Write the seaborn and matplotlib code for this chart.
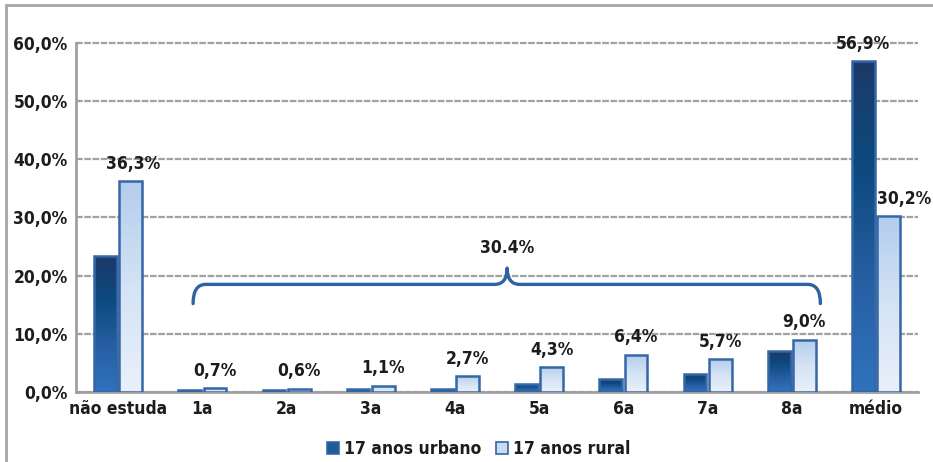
import numpy as np
import pandas as pd
import matplotlib
matplotlib.use("Agg")
import matplotlib.pyplot as plt
from matplotlib import font_manager as fm
from matplotlib.patches import Patch, PathPatch, Rectangle
from matplotlib.path import Path
from matplotlib.colors import LinearSegmentedColormap
import seaborn as sns

# ---- data -------------------------------------------------------------
categories = ["não estuda", "1a", "2a", "3a", "4a", "5a", "6a", "7a", "8a", "médio"]
urbano = [23.4, 0.4, 0.4, 0.6, 0.6, 1.4, 2.2, 3.1, 7.1, 56.9]
rural = [36.3, 0.7, 0.6, 1.1, 2.7, 4.3, 6.4, 5.7, 9.0, 30.2]
series_names = ["17 anos urbano", "17 anos rural"]
yticks = [0, 10, 20, 30, 40, 50, 60]
brace_label = "30.4%"

df = pd.DataFrame({
    "serie": [series_names[0]] * len(categories) + [series_names[1]] * len(categories),
    "categoria": categories * 2,
    "valor": urbano + rural,
})

# ---- style ------------------------------------------------------------
sns.set_theme(style="white")


def condensed_bold_font():
    """Return (family, stretch) of an installed narrow bold face, if any."""
    prefs = ["Liberation Sans Narrow", "DejaVu Sans", "Noto Sans", "Open Sans",
             "Roboto", "Lato", "Inter"]
    found = []
    for f in fm.fontManager.ttflist:
        fn = f.fname.lower()
        if ("condensed" in fn or "narrow" in fn) and "semi" not in fn \
                and "extra" not in fn and "italic" not in fn and "oblique" not in fn:
            w = f.weight if isinstance(f.weight, int) else (700 if f.weight == "bold" else 400)
            if w >= 600:
                found.append(f)
    for p in prefs:
        for f in found:
            if f.name.startswith(p):
                return f.name, f.stretch
    if found:
        return found[0].name, found[0].stretch
    return None, None


fam, stretch = condensed_bold_font()
if fam:
    plt.rcParams["font.family"] = [fam, "DejaVu Sans"]
    plt.rcParams["font.stretch"] = stretch
    FS = 12.5
else:
    plt.rcParams["font.family"] = ["Roboto", "DejaVu Sans"]
    FS = 11.5
plt.rcParams["font.weight"] = "bold"

TXT = "#1c1c1c"
GRID = "#a0a0a0"
EDGE = "#3566a6"

fig = plt.figure(figsize=(9.33, 4.62), dpi=100)
ax = fig.add_axes([0.0815, 0.1515, 0.9025, 0.7555])

sns.barplot(data=df, x="categoria", y="valor", hue="serie", order=categories,
            hue_order=series_names, width=0.6, gap=0.1, ax=ax,
            palette=["#1f5a9c", "#c9dcf2"], edgecolor=EDGE, linewidth=1.8,
            legend=False, zorder=3)

# gradient fills clipped to each bar
cmap_u = LinearSegmentedColormap.from_list("urb", ["#2f73bd", "#275fa3", "#0c4a80", "#1c3a68"])
cmap_r = LinearSegmentedColormap.from_list("rur", ["#e9f0fa", "#d4e3f5", "#b3cdec"])
grad = np.linspace(0, 1, 256).reshape(-1, 1)
n = len(categories)
bars = list(ax.patches)
for i, p in enumerate(bars):
    x, w = p.get_x(), p.get_width()
    h = p.get_height()
    cmap = cmap_u if i < n else cmap_r
    im = ax.imshow(grad, cmap=cmap, origin="lower", aspect="auto",
                   extent=(x, x + w, 0, h), zorder=3, interpolation="bilinear")
    im.set_clip_path(p)
    p.set_facecolor("none")
    p.set_zorder(4)

ax.set_xlim(-0.5, n - 0.5)
ax.set_ylim(0, 60)


# value labels
def label(bar, value, dx=0):
    ax.annotate(f"{value:.1f}%".replace(".", ","),
                (bar.get_x() + bar.get_width() / 2, bar.get_height()),
                xytext=(dx, 6), textcoords="offset points", ha="center", va="bottom",
                fontsize=FS, fontweight="bold", color=TXT, zorder=6)


for i in range(n):
    label(bars[n + i], rural[i], dx=11 if i == n - 1 else (2 if i == 0 else 0))
label(bars[n - 1], urbano[n - 1])

# axes styling
ax.set_yticks(yticks)
ax.set_yticklabels([f"{v:.1f}%".replace(".", ",") for v in yticks])
ax.set_xticks(range(n))
ax.set_xticklabels(categories)
ax.set_xticks(np.arange(-0.5, n), minor=True)
ax.tick_params(axis="x", which="major", length=0, pad=6, labelsize=FS, labelcolor=TXT)
ax.tick_params(axis="x", which="minor", length=5, width=1.5, color=GRID, direction="out")
ax.tick_params(axis="y", length=5, width=1.5, color=GRID, direction="out", pad=1,
               labelsize=FS, labelcolor=TXT)
for t in ax.get_xticklabels() + ax.get_yticklabels():
    t.set_fontweight("bold")
ax.set_xlabel("")
ax.set_ylabel("")
ax.grid(axis="y", color=GRID, linestyle=(0, (3, 0.7)), linewidth=1.6, zorder=0)
for gl in ax.get_ygridlines():
    gl.set_clip_on(False)
ax.set_axisbelow(True)
for s in ["top", "right"]:
    ax.spines[s].set_visible(False)
for s in ["left", "bottom"]:
    ax.spines[s].set_color(GRID)
    ax.spines[s].set_linewidth(2)

# brace spanning grades 1a-8a
x0, x1, xm = 0.89, 8.34, 4.62
yb, ye, yt = 18.5, 15.2, 21.3
rx = 0.15
verts = [(x0, ye), (x0, yb), (x0 + rx, yb),
         (xm - rx, yb), (xm, yb), (xm, yt),
         (xm, yb), (xm + rx, yb),
         (x1 - rx, yb), (x1, yb), (x1, ye)]
codes = [Path.MOVETO, Path.CURVE3, Path.CURVE3,
         Path.LINETO, Path.CURVE3, Path.CURVE3,
         Path.CURVE3, Path.CURVE3,
         Path.LINETO, Path.CURVE3, Path.CURVE3]
ax.add_patch(PathPatch(Path(verts, codes), facecolor="none", edgecolor="#2e62a3",
                       linewidth=2.4, capstyle="round", joinstyle="round", zorder=5))
ax.text(xm, 23.2, brace_label, ha="center", va="bottom", fontsize=FS,
        fontweight="bold", color=TXT, zorder=6)

# legend
handles = [Patch(facecolor="#1f5a9c", edgecolor=EDGE, linewidth=1.2),
           Patch(facecolor="#c9dcf2", edgecolor=EDGE, linewidth=1.2)]
fig.legend(handles, series_names, loc="center", bbox_to_anchor=(0.513, 0.028),
           ncol=2, frameon=False, handlelength=0.7, handleheight=0.7,
           handletextpad=0.3, columnspacing=0.8,
           prop={"size": FS, "weight": "bold"}, labelcolor=TXT)

# outer frame
fig.patches.append(Rectangle((6 / 933, -0.05), 1.2, 1 - 5 / 462 + 0.05,
                             transform=fig.transFigure, fill=False,
                             edgecolor="#a6a6a6", linewidth=2, zorder=0))

fig.savefig("out.png", dpi=100)
